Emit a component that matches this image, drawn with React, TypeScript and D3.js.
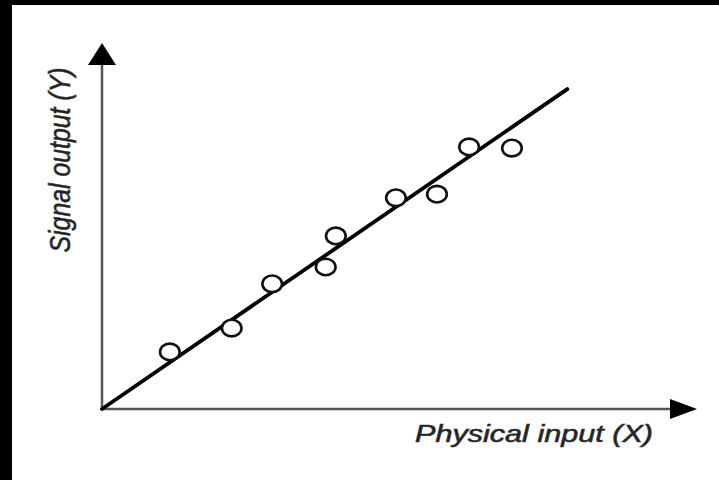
import React, { useEffect } from "react";
import * as d3 from "d3";

const W = 719;
const H = 480;

// data in abstract units (0–100 on both axes)
const pointX = [11.4, 21.8, 28.6, 37.6, 39.3, 49.4, 56.3, 61.7, 68.9];
const pointY = [15.6, 22.1, 34.2, 38.8, 47.3, 57.7, 58.7, 71.6, 71.3];
const fitX = [0, 78.2];
const fitY = [0, 87.4];
const xLabel = "Physical input (X)";
const yLabel = "Signal output (Y)";

export default function App() {
  useEffect(() => {
    document.body.style.margin = "0";
  }, []);

  const x = d3.scaleLinear().domain([0, 100]).range([102, 697]);
  const y = d3.scaleLinear().domain([0, 100]).range([409, 43]);

  const fitPath = d3
    .line<number>()
    .x((d) => x(fitX[d]))
    .y((d) => y(fitY[d]))([0, 1]) as string;

  const x0 = x(0);
  const y0 = y(0);
  const xTip = x(100);
  const yTip = y(100);

  return (
    <svg
      width={W}
      height={H}
      style={{ position: "absolute", left: 0, top: 0, display: "block" }}
      fontFamily="'Liberation Sans', Arial, sans-serif"
    >
      <rect x={0} y={0} width={W} height={H} fill="#000" />
      <rect x={12} y={5} width={W - 12} height={H - 5} fill="#fff" />

      {/* axes */}
      <line x1={x0} y1={y0} x2={x0} y2={yTip + 20} stroke="#555" strokeWidth={2.5} />
      <line x1={x0} y1={y0} x2={xTip - 25} y2={y0} stroke="#555" strokeWidth={2.5} />
      <path
        d={`M${x0},${yTip} L${x0 - 14},${yTip + 22} L${x0 + 14},${yTip + 22} Z`}
        fill="#000"
      />
      <path
        d={`M${xTip},${y0} L${xTip - 27},${y0 - 10} L${xTip - 27},${y0 + 10} Z`}
        fill="#000"
      />

      {/* fit line */}
      <path d={fitPath} stroke="#000" strokeWidth={3.8} fill="none" strokeLinecap="round" />

      {/* points */}
      {pointX.map((px, i) => (
        <ellipse
          key={i}
          cx={x(px)}
          cy={y(pointY[i])}
          rx={9.8}
          ry={8.3}
          fill="#fff"
          stroke="#111"
          strokeWidth={2.6}
        />
      ))}

      {/* labels */}
      <text
        x={534}
        y={442}
        textAnchor="middle"
        fontSize={23.5}
        fontStyle="italic"
        fill="#222"
        stroke="#333"
        strokeWidth={0.6}
        textLength={238}
        lengthAdjust="spacingAndGlyphs"
      >
        {xLabel}
      </text>
      <text
        transform="translate(70,160) rotate(-90)"
        x={0}
        y={0}
        textAnchor="middle"
        fontSize={29}
        fontStyle="italic"
        fill="#222"
        stroke="#333"
        strokeWidth={0.6}
        textLength={185}
        lengthAdjust="spacingAndGlyphs"
      >
        {yLabel}
      </text>
    </svg>
  );
}
